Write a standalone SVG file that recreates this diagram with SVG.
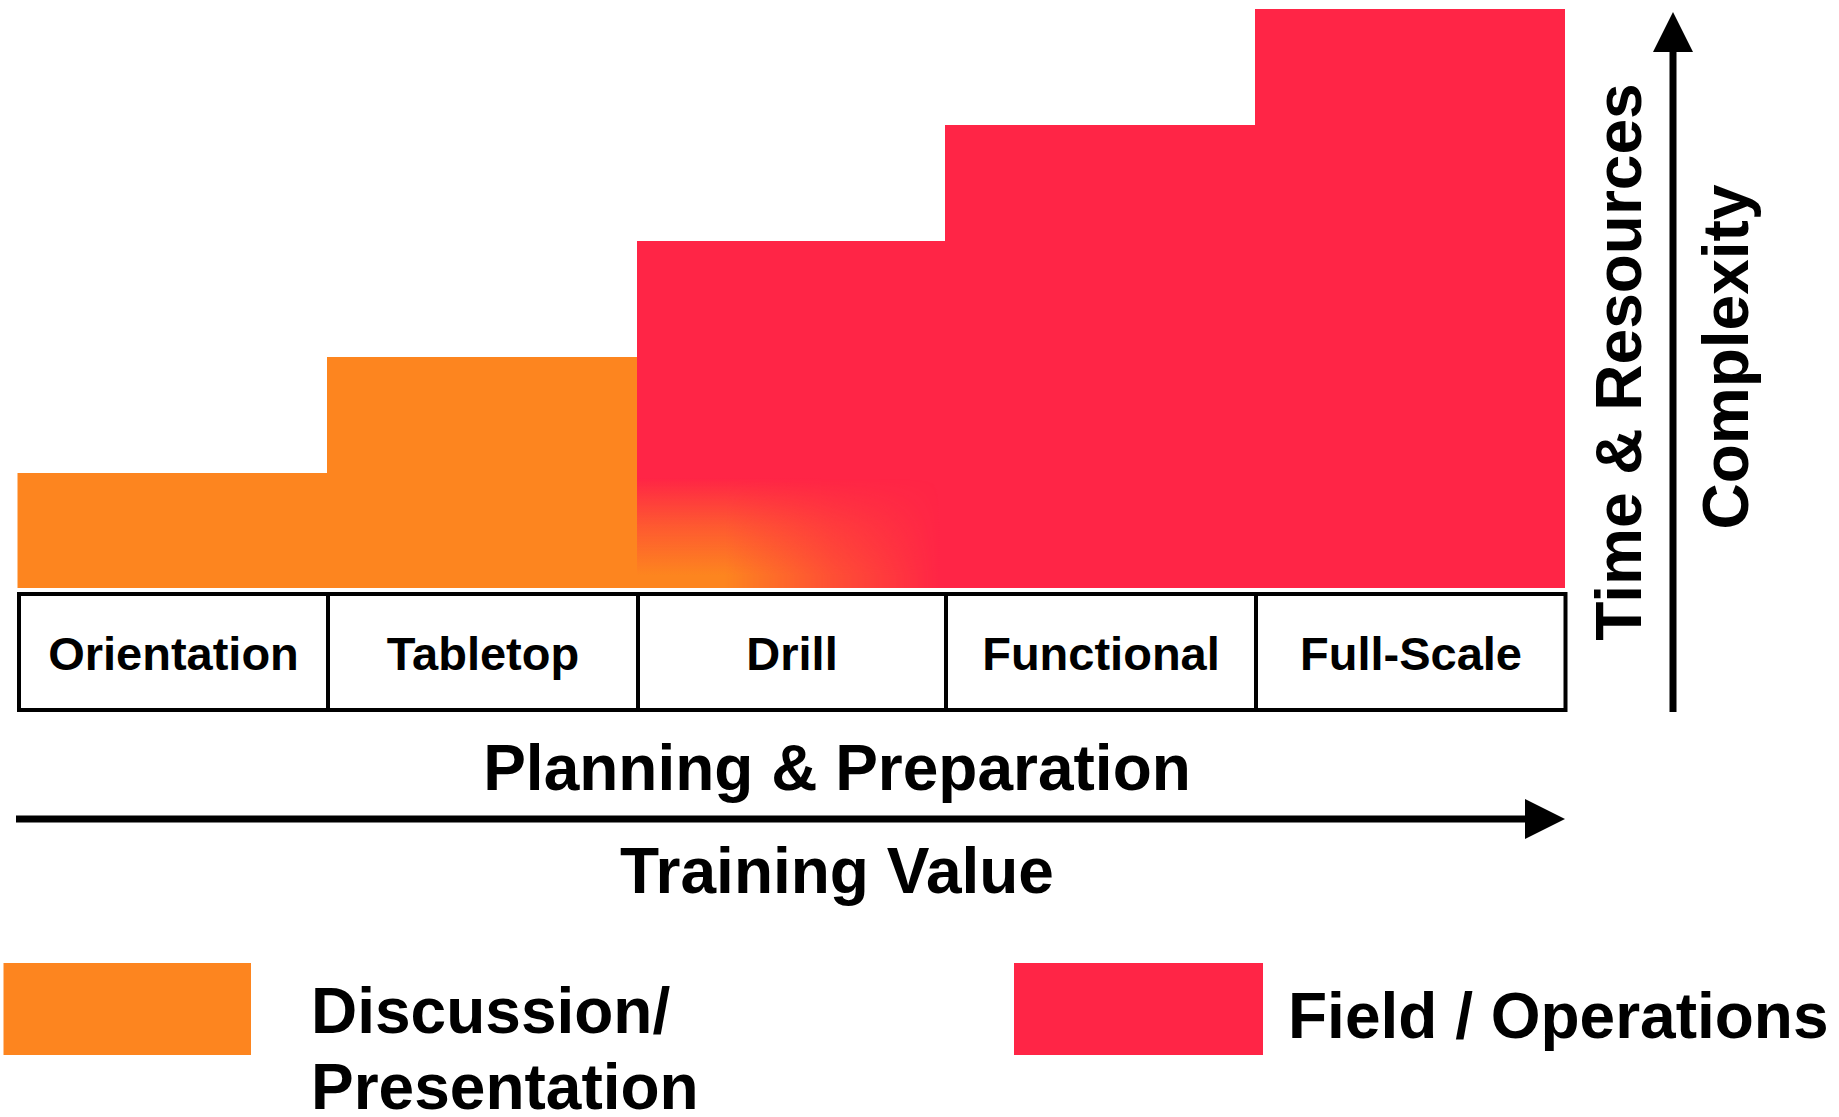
<svg xmlns="http://www.w3.org/2000/svg" width="1839" height="1117" viewBox="0 0 1839 1117">
<style>
  .orange { fill: #FD851F; }
  .red { fill: #FF2546; }
  .cell { fill: #FFFFFF; stroke: #000000; stroke-width: 4; }
  .lbl { font-family: "Liberation Sans", Arial, sans-serif; font-weight: bold; fill: #000000; }
  .cellTxt { font-size: 47px; text-anchor: middle; }
  .big { font-size: 64px; }
  .axis { stroke: #000000; stroke-width: 7; fill: none; }
</style>
<defs>
  <marker id="head" markerUnits="userSpaceOnUse" markerWidth="40" markerHeight="40" viewBox="0 0 40 40" refX="0" refY="20" orient="auto">
    <path d="M0,0 L40,20 L0,40 Z" fill="#000000"/>
  </marker>
  <linearGradient id="vfade" gradientUnits="userSpaceOnUse" x1="0" y1="478" x2="0" y2="575">
    <stop offset="0" stop-color="#FD851F" stop-opacity="0"/>
    <stop offset="0.5" stop-color="#FD851F" stop-opacity="0.55"/>
    <stop offset="1" stop-color="#FD851F" stop-opacity="1"/>
  </linearGradient>
  <linearGradient id="hfadeGrad" gradientUnits="userSpaceOnUse" x1="725" y1="0" x2="940" y2="0">
    <stop offset="0" stop-color="#FFFFFF"/>
    <stop offset="0.5" stop-color="#707070"/>
    <stop offset="1" stop-color="#000000"/>
  </linearGradient>
  <mask id="hfade" maskUnits="userSpaceOnUse" x="630" y="470" width="330" height="125">
    <rect x="630" y="470" width="330" height="125" fill="url(#hfadeGrad)"/>
  </mask>
</defs>

<g id="bars">
  <rect id="bar-orientation" class="orange" x="17.5" y="473" width="310" height="115"/>
  <rect id="bar-tabletop" class="orange" x="327" y="357" width="310" height="231"/>
  <rect id="bar-drill" class="red" x="637" y="241" width="308.5" height="347"/>
  <rect id="bar-drill-blend" fill="url(#vfade)" mask="url(#hfade)" x="637" y="478" width="308" height="110"/>
  <rect id="bar-functional" class="red" x="945" y="125" width="310.5" height="463"/>
  <rect id="bar-fullscale" class="red" x="1255" y="9" width="310" height="579"/>
</g>

<g id="cell-orientation">
  <rect class="cell" x="19" y="594" width="309" height="116"/>
  <text class="lbl cellTxt" x="173.5" y="670">Orientation</text>
</g>
<g id="cell-tabletop">
  <rect class="cell" x="328" y="594" width="310" height="116"/>
  <text class="lbl cellTxt" x="483" y="670">Tabletop</text>
</g>
<g id="cell-drill">
  <rect class="cell" x="638" y="594" width="308" height="116"/>
  <text class="lbl cellTxt" x="792" y="670">Drill</text>
</g>
<g id="cell-functional">
  <rect class="cell" x="946" y="594" width="310" height="116"/>
  <text class="lbl cellTxt" x="1101" y="670">Functional</text>
</g>
<g id="cell-fullscale">
  <rect class="cell" x="1256" y="594" width="309.5" height="116"/>
  <text class="lbl cellTxt" x="1411" y="670">Full-Scale</text>
</g>

<g id="connectors">
  <line id="axis-x" class="axis" x1="16" y1="819" x2="1525" y2="819" marker-end="url(#head)"/>
  <line id="axis-y" class="axis" x1="1673" y1="712" x2="1673" y2="52" marker-end="url(#head)"/>
</g>

<g id="axis-labels">
  <text class="lbl big" x="837" y="790" text-anchor="middle">Planning &amp; Preparation</text>
  <text class="lbl big" x="837" y="893" text-anchor="middle">Training Value</text>
  <text class="lbl big" x="1641" y="362" text-anchor="middle" transform="rotate(-90 1641 362)">Time &amp; Resources</text>
  <text class="lbl big" x="1748" y="357" text-anchor="middle" transform="rotate(-90 1748 357)">Complexity</text>
</g>

<g id="legend-discussion">
  <rect class="orange" x="3.5" y="963" width="247.5" height="92"/>
  <text class="lbl big" x="311" y="1033" font-size="63">Discussion/</text>
  <text class="lbl big" x="311" y="1109" font-size="63">Presentation</text>
</g>
<g id="legend-field">
  <rect class="red" x="1014" y="963" width="249" height="92"/>
  <text class="lbl big" x="1288" y="1038" font-size="63">Field / Operations</text>
</g>
</svg>
